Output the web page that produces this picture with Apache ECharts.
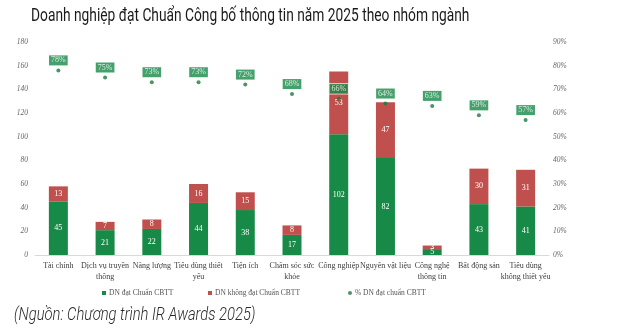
<!DOCTYPE html>
<html><head><meta charset="utf-8">
<script src="https://cdn.jsdelivr.net/npm/echarts@6/dist/echarts.min.js"></script>
<style>html,body{margin:0;padding:0;background:#fff}#c{width:640px;height:333px}</style>
</head><body><div id="c"></div>
<script>
const categories = ['Tài chính','Dịch vụ truyền\nthông','Năng lượng','Tiêu dùng thiết\nyếu','Tiện ích','Chăm sóc sức\nkhỏe','Công nghiệp','Nguyên vật liệu','Công nghệ\nthông tin','Bất động sản','Tiêu dùng\nkhông thiết yếu'];
const passed = [45,21,22,44,38,17,102,82,5,43,41];
const failed = [13,7,8,16,15,8,53,47,3,30,31];
const passRate = [0.78,0.75,0.73,0.73,0.72,0.68,0.66,0.64,0.63,0.59,0.57];
const leftTicks = [0,20,40,60,80,100,120,140,160,180];
const names = ['DN đạt Chuẩn CBTT','DN không đạt Chuẩn CBTT','% DN đạt chuẩn CBTT'];

const GREEN = '#178a47', RED = '#c0504d', DOT = '#1a7a40';
const serif = 'Liberation Serif';
const chart = echarts.init(document.getElementById('c'));
const legendBase = {top: 284, itemWidth: 4, itemHeight: 4, itemGap: 2, textStyle:{fontFamily: serif, fontSize: 7.5, color:'#555', padding:[0,0,0,-2]}, selectedMode:false};
chart.setOption({
  animation: false,
  graphic: [
    {type:'text', x: 31, y: 7, scaleX: 0.725, originX: 0, originY: 0,
      style:{text:'Doanh nghiệp đạt Chuẩn Công bố thông tin năm 2025 theo nhóm ngành', font:'400 19px Roboto', fill:'#1a1a1a', verticalAlign:'top'}},
    {type:'text', x: 14, y: 306, scaleX: 0.82, originX: 0, originY: 0,
      style:{text:'(Nguồn: Chương trình IR Awards 2025)', font:'italic 300 18px Roboto', fill:'#2a2a2a', verticalAlign:'top'}}
  ],
  legend: [
    Object.assign({left: 97, data:[{name:names[0], icon:'rect'}]}, legendBase),
    Object.assign({left: 203, data:[{name:names[1], icon:'rect'}]}, legendBase),
    Object.assign({left: 343, data:[{name:names[2], icon:'circle'}]}, legendBase)
  ],
  grid: {left: 35, right: 91, top: 42, bottom: 78},
  xAxis: {type:'category', data: categories,
    axisLine:{lineStyle:{color:'#d9d9d9'}}, axisTick:{show:false},
    axisLabel:{interval:0, fontFamily: serif, fontSize: 8, color:'#404040', lineHeight: 11, margin: 5}},
  yAxis: [
    {type:'value', min:0, max:180, interval:20, splitLine:{show:false}, axisLine:{show:false}, axisTick:{show:false},
      axisLabel:{fontFamily: serif, fontStyle:'italic', fontSize: 7.5, color:'#666', margin: 7}},
    {type:'value', min:0, max:0.9, interval:0.1, splitLine:{show:false}, axisLine:{show:false}, axisTick:{show:false},
      axisLabel:{fontFamily: serif, fontStyle:'italic', fontSize: 7.5, color:'#666', margin: 4,
        formatter: v => Math.round(v*100) + '%'}}
  ],
  series: [
    {name: names[0], type:'bar', stack:'a', data: passed, barWidth: 19, itemStyle:{color: GREEN},
      label:{show:true, position:'inside', color:'#fff', fontFamily: serif, fontSize: 8}},
    {name: names[1], type:'bar', stack:'a', data: failed, barWidth: 19, itemStyle:{color: RED},
      label:{show:true, position:'inside', color:'#fff', fontFamily: serif, fontSize: 8}},
    {name: names[2], type:'scatter', yAxisIndex:1, data: passRate, symbolSize: 4, itemStyle:{color: DOT},
      label:{show:true, position:'top', distance: 3, formatter: p => Math.round(p.value*100) + '%',
        backgroundColor: GREEN, color:'#fff', fontFamily: serif, fontSize: 8, padding:[1,2,1,2],
        borderColor:'#fff', borderWidth: 0.8}}
  ]
});
</script></body></html>
